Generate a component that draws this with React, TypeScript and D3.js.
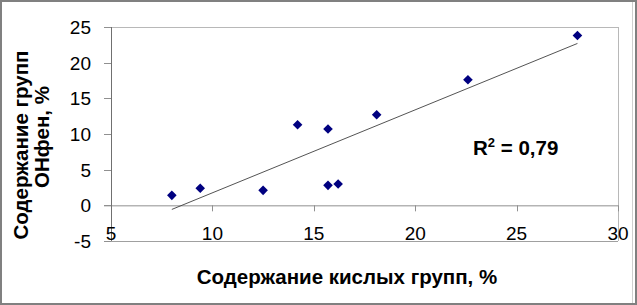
import React from "react";
import * as d3 from "d3";

const xValues = [8.0, 9.4, 12.5, 14.2, 15.7, 18.1, 22.6, 28.0, 15.7, 16.2];
const yValues = [1.4, 2.4, 2.1, 11.3, 10.7, 12.7, 17.6, 23.8, 2.8, 3.0];
const xTicks = [5, 10, 15, 20, 25, 30];
const yTicks = [-5, 0, 5, 10, 15, 20, 25];
const xTitle = "Содержание кислых групп, %";
const yTitleLines = ["Содержание групп", "ОНфен, %"];

const W = 637;
const H = 305;
const FONT = "'Liberation Sans', Arial, sans-serif";

export default function App() {
  const x = d3.scaleLinear().domain([5, 30]).range([111, 618]);
  const y = d3.scaleLinear().domain([-5, 25]).range([241, 27]);

  const n = xValues.length;
  const mx = d3.mean(xValues)!;
  const my = d3.mean(yValues)!;
  let sxy = 0, sxx = 0, syy = 0;
  for (let i = 0; i < n; i++) {
    sxy += (xValues[i] - mx) * (yValues[i] - my);
    sxx += (xValues[i] - mx) ** 2;
    syy += (yValues[i] - my) ** 2;
  }
  const slope = sxy / sxx;
  const intercept = my - slope * mx;
  const r2 = (sxy * sxy) / (sxx * syy);
  const [x0, x1] = d3.extent(xValues) as [number, number];
  const line = d3.line<number>().x((d) => x(d)).y((d) => y(slope * d + intercept));

  const diamond = d3.symbol(d3.symbolSquare, 46)()!;

  return (
    <svg
      width={W}
      height={H}
      style={{ position: "absolute", left: 0, top: 0, background: "#fff" }}
      fontFamily={FONT}
    >
      <rect x={0} y={0} width={W} height={H} fill="#fff" />
      {/* outer frame */}
      <rect x={1} y={1} width={W - 2} height={H - 2} fill="none" stroke="#808080" strokeWidth={2} />
      <line x1={632.5} x2={632.5} y1={2} y2={H - 2} stroke="#d0d0d0" strokeWidth={1} />

      {/* plot border */}
      <line x1={x(5)} x2={x(30)} y1={27.5} y2={27.5} stroke="#b8b8b8" />
      <line x1={618.5} x2={618.5} y1={27} y2={241} stroke="#b8b8b8" />
      <line x1={104} x2={x(30)} y1={y(-5) + 0.5} y2={y(-5) + 0.5} stroke="#a0a0a0" />

      {/* x axis at y=0 */}
      <line x1={104} x2={x(30)} y1={y(0) + 0.5} y2={y(0) + 0.5} stroke="#909090" />
      {xTicks.map((t) => (
        <line key={"xt" + t} x1={Math.round(x(t)) + 0.5} x2={Math.round(x(t)) + 0.5} y1={y(0)} y2={y(0) + 6} stroke="#909090" />
      ))}
      {/* y axis */}
      <line x1={111.5} x2={111.5} y1={27} y2={241} stroke="#707070" />
      {yTicks.map((t) => (
        <line key={"yt" + t} x1={104} x2={111} y1={Math.round(y(t)) + 0.5} y2={Math.round(y(t)) + 0.5} stroke="#909090" />
      ))}

      {/* tick labels */}
      {yTicks.map((t) => (
        <text key={"yl" + t} x={91} y={y(t)} dy="0.36em" textAnchor="end" fontSize={19} fill="#000">
          {t}
        </text>
      ))}
      {xTicks.map((t) => (
        <text key={"xl" + t} x={x(t)} y={240} textAnchor="middle" fontSize={19} fill="#000">
          {t}
        </text>
      ))}

      {/* trendline */}
      <path d={line([x0, x1])!} fill="none" stroke="#404040" strokeWidth={0.9} />

      {/* points */}
      {xValues.map((v, i) => (
        <path
          key={"p" + i}
          d={diamond}
          transform={`translate(${x(v)},${y(yValues[i])}) rotate(45)`}
          fill="#000080"
        />
      ))}

      {/* R² label */}
      <text x={473} y={155} fontSize={20.5} fontWeight="bold" fill="#000">
        R<tspan dy={-8} fontSize={13}>2</tspan>
        <tspan dy={8}>{" = " + r2.toFixed(2).replace(".", ",")}</tspan>
      </text>

      {/* axis titles */}
      <text x={347} y={284} textAnchor="middle" fontSize={20.5} fontWeight="bold" fill="#000">
        {xTitle}
      </text>
      <text transform="translate(28,145) rotate(-90)" textAnchor="middle" fontSize={20.5} fontWeight="bold" fill="#000">
        {yTitleLines[0]}
      </text>
      <text transform="translate(49,137) rotate(-90)" textAnchor="middle" fontSize={20.5} fontWeight="bold" fill="#000">
        {yTitleLines[1]}
      </text>
    </svg>
  );
}
